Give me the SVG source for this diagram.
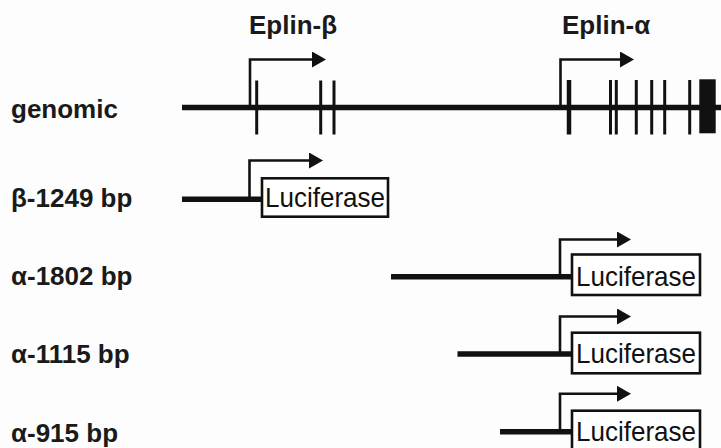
<svg xmlns="http://www.w3.org/2000/svg" width="721" height="448" viewBox="0 0 721 448">
  <style>
    .label { font-family: "Liberation Sans", Arial, sans-serif; font-weight: bold; font-size: 26px; fill: #1a1a1a; }
    .box-text { font-family: "Liberation Sans", Arial, sans-serif; font-size: 28px; fill: #111; }
    .dna { stroke: #111; stroke-width: 5.5; fill: none; }
    .exon { stroke: #111; stroke-width: 3; }
    .tss { stroke: #111; stroke-width: 2.6; fill: none; }
    .box { fill: #fff; stroke: #111; stroke-width: 2.6; }
  </style>
  <defs>
    <marker id="head" viewBox="0 0 14 16" refX="1" refY="8" markerWidth="14" markerHeight="16" markerUnits="userSpaceOnUse" orient="auto">
      <path d="M0,0 L14,8 L0,16 Z" fill="#111"/>
    </marker>
  </defs>
  <rect width="721" height="448" fill="#fdfdfd"/>

  <!-- row labels -->
  <g id="labels">
    <text class="label" x="11" y="118">genomic</text>
    <text class="label" x="11" y="206.5">β-1249 bp</text>
    <text class="label" x="11" y="285">α-1802 bp</text>
    <text class="label" x="11" y="363">α-1115 bp</text>
    <text class="label" x="11" y="442">α-915 bp</text>
  </g>

  <!-- genomic locus -->
  <g id="genomic">
    <line class="dna" x1="182" y1="107.5" x2="721" y2="107.5"/>
    <line class="exon" x1="256.7" y1="80.5" x2="256.7" y2="134.5"/>
    <line class="exon" x1="320.7" y1="80.5" x2="320.7" y2="134.5"/>
    <line class="exon" x1="334" y1="80.5" x2="334" y2="134.5"/>
    <line class="exon" x1="569" y1="80" x2="569" y2="134.5" style="stroke-width:4.5"/>
    <line class="exon" x1="610.5" y1="80" x2="610.5" y2="134.5"/>
    <line class="exon" x1="616.3" y1="80" x2="616.3" y2="134.5"/>
    <line class="exon" x1="636.3" y1="80" x2="636.3" y2="134.5"/>
    <line class="exon" x1="651.7" y1="80" x2="651.7" y2="134.5"/>
    <line class="exon" x1="664.7" y1="80" x2="664.7" y2="134.5"/>
    <line class="exon" x1="689.7" y1="80" x2="689.7" y2="134.5"/>
    <rect x="699.3" y="79.3" width="16.4" height="54" fill="#111"/>
  </g>

  <g id="eplin-beta">
    <text class="label" x="249" y="34">Eplin-β</text>
    <path class="tss" d="M250,107 V59.5 H313" marker-end="url(#head)"/>
  </g>

  <g id="eplin-alpha">
    <text class="label" x="562" y="34">Eplin-α</text>
    <path class="tss" d="M560.5,107 V59.5 H621" marker-end="url(#head)"/>
  </g>

  <!-- reporter constructs -->
  <g id="beta-1249">
    <line class="dna" x1="182" y1="199.3" x2="262" y2="199.3"/>
    <path class="tss" d="M249.5,199 V160.5 H310" marker-end="url(#head)"/>
    <rect class="box" x="262" y="178.3" width="126" height="38.4"/>
    <text class="box-text" x="265" y="206.5" textLength="120" lengthAdjust="spacingAndGlyphs">Luciferase</text>
  </g>

  <g id="alpha-1802">
    <line class="dna" x1="391" y1="276.7" x2="572" y2="276.7"/>
    <path class="tss" d="M560,276.5 V239.5 H618" marker-end="url(#head)"/>
    <rect class="box" x="572" y="254.5" width="128" height="40.5"/>
    <text class="box-text" x="576" y="285.5" textLength="120" lengthAdjust="spacingAndGlyphs">Luciferase</text>
  </g>

  <g id="alpha-1115">
    <line class="dna" x1="457.5" y1="354" x2="572" y2="354"/>
    <path class="tss" d="M560,354 V316.5 H618" marker-end="url(#head)"/>
    <rect class="box" x="572" y="332.7" width="128" height="40.6"/>
    <text class="box-text" x="576" y="363" textLength="120" lengthAdjust="spacingAndGlyphs">Luciferase</text>
  </g>

  <g id="alpha-915">
    <line class="dna" x1="500" y1="431.7" x2="572" y2="431.7"/>
    <path class="tss" d="M560,431.5 V393.8 H618" marker-end="url(#head)"/>
    <rect class="box" x="572" y="410.7" width="128" height="42"/>
    <text class="box-text" x="576" y="440.5" textLength="120" lengthAdjust="spacingAndGlyphs">Luciferase</text>
  </g>
</svg>
